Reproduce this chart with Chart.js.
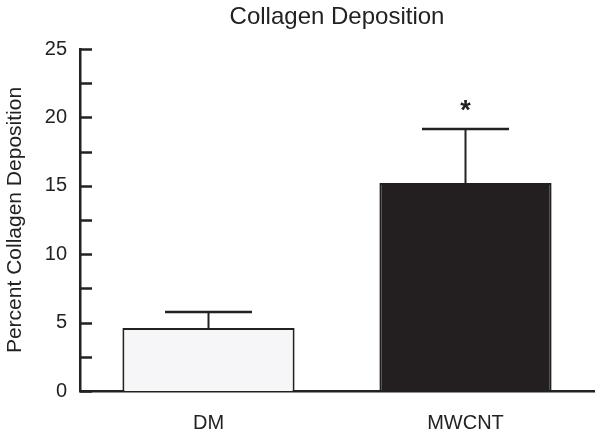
<!DOCTYPE html>
<html>
<head>
<meta charset="utf-8">
<script src="https://cdn.jsdelivr.net/npm/chart.js@4"></script>
<style>
  html, body { margin: 0; padding: 0; background: #fff; }
  #wrap { width: 602px; height: 437px; }
</style>
</head>
<body>
<div id="wrap"><canvas id="chart"></canvas></div>
<script>
const categories = ['DM', 'MWCNT'];
const means = [4.6, 15.2];
const errors = [1.17, 3.95];
const significant = [false, true];
const yTicksMax = 25;

const ink = '#222222';
const font = "'Liberation Sans', Arial, sans-serif";

// ticks on the inside of the y axis, error bars and the asterisk
const extras = {
  id: 'extras',
  afterDatasetsDraw(chart) {
    const ctx = chart.ctx;
    const x = chart.scales.x;
    const y = chart.scales.y;
    ctx.save();
    ctx.strokeStyle = ink;
    ctx.fillStyle = ink;

    // inward tick marks
    ctx.lineWidth = 2.5;
    y.ticks.forEach(t => {
      const py = Math.round(y.getPixelForValue(t.value)) + 0.5;
      ctx.beginPath();
      ctx.moveTo(y.right, py);
      ctx.lineTo(y.right + 12, py);
      ctx.stroke();
    });

    // error bars (upper only)
    means.forEach((m, i) => {
      const cx = x.getPixelForValue(i);
      const top = y.getPixelForValue(m);
      const hi = y.getPixelForValue(m + errors[i]);
      ctx.lineWidth = 2;
      ctx.beginPath();
      ctx.moveTo(cx, top);
      ctx.lineTo(cx, hi);
      ctx.stroke();
      ctx.lineWidth = 2.5;
      ctx.beginPath();
      ctx.moveTo(cx - 43.5, hi);
      ctx.lineTo(cx + 43.5, hi);
      ctx.stroke();
      if (significant[i]) {
        ctx.font = 'bold 27px ' + font;
        ctx.textAlign = 'center';
        ctx.textBaseline = 'alphabetic';
        ctx.fillText('*', cx, hi - 10);
      }
    });
    ctx.restore();
  }
};

new Chart(document.getElementById('chart'), {
  type: 'bar',
  data: {
    labels: categories,
    datasets: [{
      data: means,
      backgroundColor: ['#f6f6f8', '#231f20'],
      borderColor: [ink, '#231f20'],
      borderWidth: 2,
      borderSkipped: 'bottom',
      barPercentage: 0.67,
      categoryPercentage: 1
    }]
  },
  options: {
    responsive: true,
    maintainAspectRatio: false,
    animation: false,
    layout: { padding: { left: 0, right: 8, top: 0, bottom: 0 } },
    plugins: {
      legend: { display: false },
      tooltip: { enabled: false },
      title: {
        display: true,
        fullSize: false,
        text: 'Collagen Deposition',
        color: ink,
        font: { family: font, size: 24, weight: 'normal' },
        padding: { top: 3, bottom: 17.2 }
      }
    },
    scales: {
      x: {
        grid: { display: false, drawTicks: false },
        border: { color: ink, width: 2.5 },
        ticks: { color: ink, padding: 20, font: { family: font, size: 20 } },
        afterFit(scale) { scale.height = 46; }
      },
      y: {
        min: 0,
        max: yTicksMax,
        grid: { display: false, drawTicks: false },
        border: { color: ink, width: 2.5 },
        ticks: {
          stepSize: 2.5,
          color: ink,
          padding: 13,
          font: { family: font, size: 20 },
          callback: v => (v % 5 === 0 ? v : '')
        },
        title: {
          display: true,
          text: 'Percent Collagen Deposition',
          color: ink,
          font: { family: font, size: 21 },
          padding: { top: 3, bottom: 4 }
        },
        afterFit(scale) { scale.width = 80; }
      }
    }
  },
  plugins: [extras]
});
</script>
</body>
</html>
